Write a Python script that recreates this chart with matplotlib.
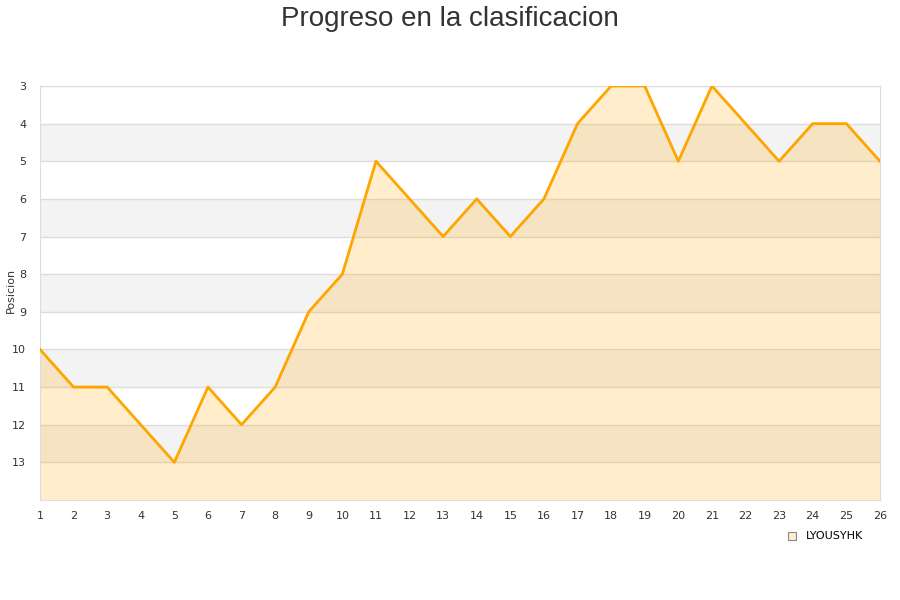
import matplotlib.pyplot as plt

# Data
jornadas = list(range(1, 27))
posiciones = [10, 11, 11, 12, 13, 11, 12, 11, 9, 8, 5, 6, 7, 6, 7, 6, 4, 3, 3, 5, 3, 4, 5, 4, 4, 5]
equipo = "LYOUSYHK"
y_ticks = list(range(3, 14))

fig = plt.figure(figsize=(9, 6), dpi=100)
ax = fig.add_axes([0.0444, 0.1667, 0.9333, 0.69])

# alternating bands
for y0 in range(4, 14, 2):
    ax.axhspan(y0, y0 + 1, color="#f3f3f3", zorder=0, lw=0)
for y in y_ticks:
    ax.axhline(y, color="#dddddd", lw=1, zorder=1)

ax.fill_between(jornadas, posiciones, 14, color="#FFA500", alpha=0.2, lw=0, zorder=2)
ax.plot(jornadas, posiciones, color="#FFA500", lw=2, zorder=3)

ax.set_xlim(1, 26)
ax.set_ylim(14, 3)
ax.set_xticks(jornadas)
ax.set_yticks(y_ticks)
ax.tick_params(length=0, labelsize=8, colors="#333333", pad=8)
ax.tick_params(axis="y", pad=10)
for s in ax.spines.values():
    s.set_color("#dddddd")

fig.text(11 / 900, 0.5 + 0.0167, "Posicion", fontsize=8, color="#333333",
         rotation=90, ha="center", va="center")
fig.suptitle("Progreso en la clasificacion", fontsize=20, color="#333333", y=0.99,
             family="Liberation Sans")

# legend
fig.patches.append(plt.Rectangle((788 / 900, 1 - 540 / 600), 8 / 900, 8 / 600,
                                 transform=fig.transFigure, facecolor="#FFEDCC",
                                 edgecolor="#888888", lw=0.8))
fig.text(806 / 900, 1 - 536 / 600, equipo, fontsize=8, color="#000000", va="center")

fig.savefig("out.png")
